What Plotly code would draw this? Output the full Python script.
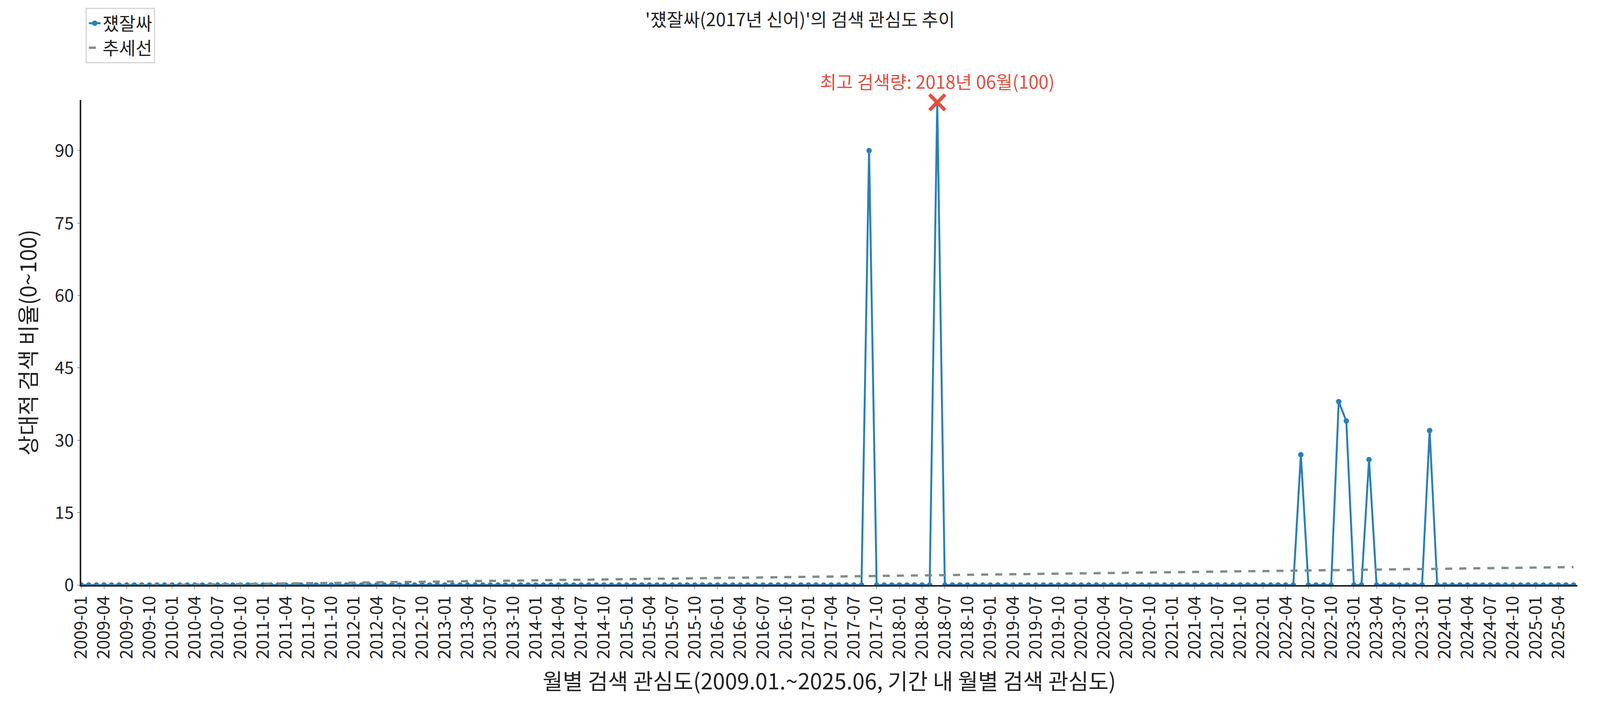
import numpy as np
import plotly.graph_objects as go

# monthly labels 2009-01 .. 2025-06
months = [f"{y}-{m:02d}" for y in range(2009, 2026) for m in range(1, 13)]
months = months[:months.index("2025-06") + 1]

# nonzero months, everything else is 0
spikes = {"2017-09": 90, "2018-06": 100, "2022-06": 27, "2022-11": 38,
          "2022-12": 34, "2023-03": 26, "2023-11": 32}
values = [spikes.get(m, 0) for m in months]

peak_month = "2018-06"
peak_value = 100
tick_labels = months[::3]
y_ticks = [0, 15, 30, 45, 60, 75, 90]

idx = np.arange(len(values))
coef = np.polyfit(idx, values, 1)
trend = list(np.polyval(coef, idx))

font = "Noto Sans CJK KR"
fig = go.Figure()
fig.add_trace(go.Scatter(name="쟸잘싸", x=months, y=values, mode="lines+markers",
                         line=dict(color="#2980b9", width=5),
                         marker=dict(size=14, color="#2980b9")))
fig.add_trace(go.Scatter(name="추세선", x=months, y=trend, mode="lines",
                         line=dict(color="#7f8c8d", width=6, dash="dash")))
fig.add_trace(go.Scatter(x=[peak_month], y=[peak_value], mode="markers", showlegend=False,
                         cliponaxis=False,
                         marker=dict(symbol="x-thin", size=40, color="#e74c3c",
                                     line=dict(width=9, color="#e74c3c"))))
fig.add_annotation(x=peak_month, y=peak_value, text=f"최고 검색량: 2018년 06월({peak_value})",
                   showarrow=False, yshift=55, font=dict(size=46, color="#e74c3c", family=font))

fig.update_layout(
    autosize=True, plot_bgcolor="white", paper_bgcolor="white",
    font=dict(family=font, size=44, color="#222"),
    title=dict(text="'쟸잘싸(2017년 신어)'의 검색 관심도 추이", x=0.5, y=0.985,
               font=dict(size=46)),
    margin=dict(l=200, r=50, t=190, b=310),
    legend=dict(x=0.003, y=1.19, xanchor="left", yanchor="top", bordercolor="#d5d5d5",
                borderwidth=3, font=dict(size=46), bgcolor="white"),
    xaxis=dict(type="category", categoryorder="array", categoryarray=months,
               range=[0, len(months) - 0.5], tickmode="array", tickvals=tick_labels,
               ticktext=tick_labels, tickangle=-90, showgrid=False, showline=True,
               linecolor="#222", linewidth=4, ticks="outside", ticklen=6,
               title=dict(text="월별 검색 관심도(2009.01.~2025.06, 기간 내 월별 검색 관심도)",
                          font=dict(size=56), standoff=40)),
    yaxis=dict(range=[0, 100.5], tickvals=y_ticks, showgrid=False, showline=True,
               linecolor="#222", linewidth=4, ticks="outside", ticklen=6, zeroline=False,
               title=dict(text="상대적 검색 비율(0~100)", font=dict(size=56), standoff=30)),
)
fig.write_html("out.html", default_width="100%", default_height="100vh")
